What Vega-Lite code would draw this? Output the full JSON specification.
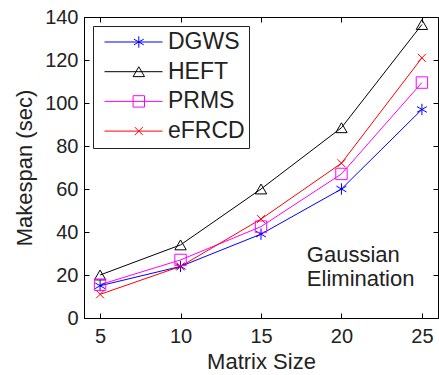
{
  "$schema": "https://vega.github.io/schema/vega-lite/v6.json",
  "width": 354,
  "height": 301,
  "autosize": {"type": "none"},
  "padding": {"left": 84, "top": 17, "right": 1, "bottom": 57},
  "background": "white",
  "config": {
    "font": "Liberation Sans",
    "view": {"stroke": "black", "strokeWidth": 1},
    "axis": {
      "grid": false,
      "domainColor": "black",
      "tickColor": "black",
      "labelColor": "#222",
      "titleColor": "#222",
      "labelFontSize": 20,
      "titleFontSize": 22,
      "titleFontWeight": "normal",
      "labelFont": "Liberation Sans",
      "titleFont": "Liberation Sans"
    }
  },
  "data": {
    "values": [
      {"size": 5, "series": "DGWS", "makespan": 15},
      {"size": 10, "series": "DGWS", "makespan": 24},
      {"size": 15, "series": "DGWS", "makespan": 39},
      {"size": 20, "series": "DGWS", "makespan": 60},
      {"size": 25, "series": "DGWS", "makespan": 97},
      {"size": 5, "series": "HEFT", "makespan": 20},
      {"size": 10, "series": "HEFT", "makespan": 34},
      {"size": 15, "series": "HEFT", "makespan": 60},
      {"size": 20, "series": "HEFT", "makespan": 88.5},
      {"size": 25, "series": "HEFT", "makespan": 136.5},
      {"size": 5, "series": "PRMS", "makespan": 15.5},
      {"size": 10, "series": "PRMS", "makespan": 27},
      {"size": 15, "series": "PRMS", "makespan": 42.5},
      {"size": 20, "series": "PRMS", "makespan": 67},
      {"size": 25, "series": "PRMS", "makespan": 109.5},
      {"size": 5, "series": "eFRCD", "makespan": 11},
      {"size": 10, "series": "eFRCD", "makespan": 24},
      {"size": 15, "series": "eFRCD", "makespan": 46},
      {"size": 20, "series": "eFRCD", "makespan": 72},
      {"size": 25, "series": "eFRCD", "makespan": 121}
    ]
  },
  "layer": [
    {
      "mark": {"type": "line", "strokeWidth": 1},
      "encoding": {
        "x": {
          "field": "size", "type": "quantitative",
          "scale": {"domain": [4, 26], "nice": false, "zero": false},
          "axis": {"title": "Matrix Size", "values": [5, 10, 15, 20, 25], "tickSize": -5, "labelPadding": 13, "titlePadding": 5}
        },
        "y": {
          "field": "makespan", "type": "quantitative",
          "scale": {"domain": [0, 140], "nice": false},
          "axis": {"title": "Makespan (sec)", "values": [0, 20, 40, 60, 80, 100, 120, 140], "tickSize": -5, "labelPadding": 11, "titlePadding": 8}
        },
        "color": {
          "field": "series", "type": "nominal",
          "scale": {"domain": ["DGWS", "HEFT", "PRMS", "eFRCD"], "range": ["#0000ff", "#000000", "#ff00ff", "#ff0000"]},
          "legend": {
            "orient": "none", "legendX": 9, "legendY": 9, "title": null,
            "symbolType": "stroke", "symbolSize": 3364, "symbolStrokeWidth": 1,
            "clipHeight": 24, "rowPadding": 5.7, "padding": 4,
            "strokeColor": "#222", "fillColor": "white",
            "labelFont": "Liberation Sans", "labelFontSize": 23, "labelColor": "#222",
            "labelOffset": 5, "symbolOffset": 7
          }
        }
      }
    },
    {
      "mark": {"type": "point", "filled": false, "strokeWidth": 1, "size": 130, "opacity": 1},
      "encoding": {
        "x": {"field": "size", "type": "quantitative", "axis": null},
        "y": {"field": "makespan", "type": "quantitative", "axis": null},
        "color": {
          "field": "series", "type": "nominal",
          "scale": {"domain": ["DGWS", "HEFT", "PRMS", "eFRCD"], "range": ["#0000ff", "#000000", "#ff00ff", "#ff0000"]},
          "legend": {
            "orient": "none", "legendX": 9, "legendY": 9, "title": null,
            "symbolSize": 130, "symbolStrokeWidth": 1,
            "clipHeight": 24, "rowPadding": 5.7, "padding": 4,
            "labelFontSize": 23, "labelExpr": "''", "symbolOffset": 30.3
          }
        },
        "shape": {
          "field": "series", "type": "nominal",
          "scale": {
            "domain": ["DGWS", "HEFT", "PRMS", "eFRCD"],
            "range": ["M0,-1V1M-0.87,-0.5L0.87,0.5M-0.87,0.5L0.87,-0.5", "triangle-up", "square", "M-0.7,-0.7L0.7,0.7M-0.7,0.7L0.7,-0.7"]
          },
          "legend": {
            "orient": "none", "legendX": 9, "legendY": 9, "title": null,
            "symbolSize": 130, "symbolStrokeWidth": 1,
            "clipHeight": 24, "rowPadding": 5.7, "padding": 4,
            "labelFontSize": 23, "labelExpr": "''", "symbolOffset": 30.3
          }
        }
      }
    },
    {
      "mark": {"type": "point", "opacity": 0},
      "encoding": {
        "x": {"field": "size", "type": "quantitative",
          "axis": {"orient": "top", "labels": false, "title": null, "domain": false, "tickSize": -5, "values": [5, 10, 15, 20, 25]}},
        "y": {"field": "makespan", "type": "quantitative",
          "axis": {"orient": "right", "labels": false, "title": null, "domain": false, "tickSize": -5, "values": [0, 20, 40, 60, 80, 100, 120, 140]}}
      }
    },
    {
      "data": {"values": [{"label": "Gaussian Elimination"}]},
      "mark": {"type": "text", "align": "left", "baseline": "alphabetic", "fontSize": 22, "lineHeight": 24, "text": ["Gaussian", "Elimination"], "color": "#222", "font": "Liberation Sans"},
      "encoding": {
        "x": {"datum": 17.85, "type": "quantitative", "axis": null},
        "y": {"datum": 26, "type": "quantitative", "axis": null}
      }
    }
  ],
  "resolve": {
    "scale": {"color": "independent", "shape": "independent"},
    "legend": {"color": "independent", "shape": "independent"},
    "axis": {"x": "independent", "y": "independent"}
  }
}
